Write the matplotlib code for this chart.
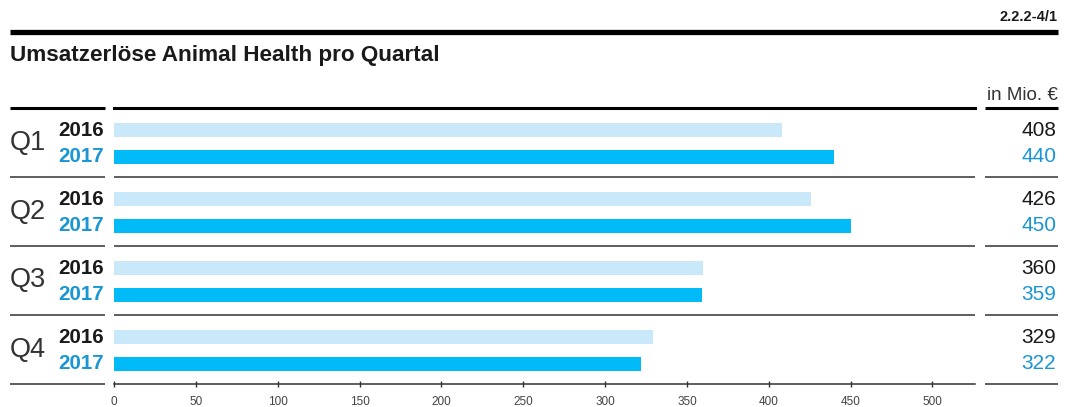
import numpy as np
import matplotlib
matplotlib.use("Agg")
import matplotlib.pyplot as plt
from matplotlib.transforms import blended_transform_factory

plt.rcParams['font.family'] = ['Liberation Sans', 'DejaVu Sans']

quarters = ["Q1", "Q2", "Q3", "Q4"]
years = ["2016", "2017"]
sales_2016 = [408, 426, 360, 329]
sales_2017 = [440, 450, 359, 322]
ticks = [0, 50, 100, 150, 200, 250, 300, 350, 400, 450, 500]

light = "#c9e8f9"
blue = "#00bbf8"
blue_txt = "#1a96d4"
dark = "#1a1a1a"

W, H = 1066, 407
fig = plt.figure(figsize=(W / 100, H / 100), dpi=100)

# background axes in pixel coords for decoration
bg = fig.add_axes([0, 0, 1, 1])
bg.set_xlim(0, W)
bg.set_ylim(H, 0)
bg.axis('off')

top, bottom, left, right = 108, 384, 114, 975
ax = fig.add_axes([left / W, (H - bottom) / H, (right - left) / W, (bottom - top) / H])
ax.set_xlim(0, 526)
ax.set_ylim(4, 0)

rows = np.arange(len(quarters))
off16, off17, bh = 0.319, 0.710, 0.203
ax.barh(rows + off16, sales_2016, height=bh, color=light)
ax.barh(rows + off17, sales_2017, height=bh, color=blue)

for s in ['top', 'left', 'right']:
    ax.spines[s].set_visible(False)
ax.spines['bottom'].set_color('#333333')
ax.spines['bottom'].set_linewidth(1.1)
ax.set_yticks([])
ax.set_xticks(ticks)
ax.set_xticklabels([str(t) for t in ticks])
ax.tick_params(axis='x', direction='inout', length=5, width=1, color='#333333',
               labelsize=8.5, labelcolor='#444444', pad=6)
ax.axhline(0, color='black', lw=2.2, clip_on=False)
for r in range(1, 4):
    ax.axhline(r, color='#333333', lw=1.1)

# header and separator segments on left and right
bg.plot([10, 1058], [32, 32], color='black', lw=3.8, solid_capstyle='butt')
bg.plot([10, 105], [top, top], color='black', lw=2.2, solid_capstyle='butt')
bg.plot([985, 1058], [top, top], color='black', lw=2.2, solid_capstyle='butt')
for i in range(1, 5):
    y = top + 69 * i
    bg.plot([10, 105], [y, y], color='#333333', lw=1.1, solid_capstyle='butt')
    bg.plot([985, 1058], [y, y], color='#333333', lw=1.1, solid_capstyle='butt')

bg.text(1058, 17, "2.2.2-4/1", ha='right', va='center', fontsize=10.5, fontweight='bold', color=dark)
bg.text(10, 56, "Umsatzerlöse Animal Health pro Quartal", ha='left', va='center',
        fontsize=16.2, fontweight='bold', color=dark)
bg.text(1058, 95, "in Mio. €", ha='right', va='center', fontsize=13.5, color='#333333')

tr = blended_transform_factory(bg.transData, ax.transData)
for i, q in enumerate(quarters):
    bg.text(10, i + 0.5, q, transform=tr, ha='left', va='center', fontsize=19.5,
            color='#333333', fontweight='light')
    bg.text(104, i + off16, years[0], transform=tr, ha='right', va='center',
            fontsize=14.8, fontweight='bold', color=dark)
    bg.text(104, i + off17, years[1], transform=tr, ha='right', va='center',
            fontsize=14.8, fontweight='bold', color=blue_txt)
    bg.text(1056, i + off16, str(sales_2016[i]), transform=tr, ha='right', va='center',
            fontsize=15, color=dark)
    bg.text(1056, i + off17, str(sales_2017[i]), transform=tr, ha='right', va='center',
            fontsize=15, color=blue_txt)

fig.savefig("out.png", dpi=100)
